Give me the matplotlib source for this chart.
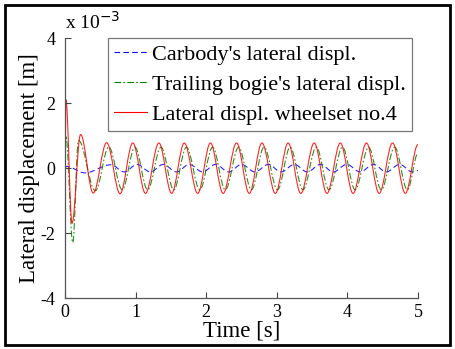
import matplotlib
matplotlib.use("Agg")
import matplotlib.pyplot as plt
from matplotlib.path import Path
from matplotlib.patches import PathPatch, Rectangle
from matplotlib.lines import Line2D

plt.rcParams["font.family"] = ["Liberation Serif", "DejaVu Serif"]
plt.rcParams["axes.unicode_minus"] = False

# extrema (time in s, displacement in 1e-3 m)
red_t = [0.0, 0.012, 0.10, 0.22, 0.40, 0.59, 0.78, 0.96, 1.14, 1.33, 1.51, 1.69, 1.88,
         2.06, 2.24, 2.43, 2.61, 2.79, 2.98, 3.16, 3.34, 3.53, 3.71, 3.90, 4.08,
         4.27, 4.45, 4.64, 4.82, 5.0]
red_v = [0.0, 2.1, -1.7, 1.03, -0.77, 0.78, -0.79, 0.77, -0.78, 0.77, -0.78, 0.77, -0.78,
         0.77, -0.78, 0.77, -0.78, 0.77, -0.78, 0.77, -0.78, 0.77, -0.78, 0.77, -0.78,
         0.77, -0.78, 0.77, -0.78, 0.72]

green_t = [0.0, 0.012, 0.11, 0.19, 0.43, 0.62, 0.81, 0.99, 1.17, 1.36, 1.54, 1.72, 1.91,
           2.09, 2.27, 2.46, 2.64, 2.82, 3.01, 3.19, 3.37, 3.56, 3.74, 3.93, 4.11,
           4.30, 4.48, 4.67, 4.85, 5.0]
green_v = [0.0, 1.0, -2.3, 0.85, -0.7, 0.65, -0.67, 0.64, -0.67, 0.64, -0.67, 0.64, -0.67,
           0.64, -0.67, 0.64, -0.67, 0.64, -0.67, 0.64, -0.67, 0.64, -0.67, 0.64, -0.67,
           0.64, -0.67, 0.64, -0.67, 0.45]

blue_t = [0.0, 0.02, 0.28, 0.65, 0.84, 1.02, 1.21, 1.39, 1.58, 1.76, 1.95, 2.13, 2.32,
          2.50, 2.69, 2.88, 3.06, 3.25, 3.43, 3.62, 3.80, 3.99, 4.18, 4.37, 4.55,
          4.74, 4.92, 5.0]
blue_v = [0.0, 0.05, -0.15, 0.1, -0.12, 0.11, -0.12, 0.11, -0.12, 0.11, -0.12, 0.11, -0.12,
          0.11, -0.12, 0.11, -0.12, 0.11, -0.12, 0.11, -0.12, 0.11, -0.12, 0.11, -0.12,
          0.11, -0.12, -0.08]

labels = ["Carbody's lateral displ.", "Trailing bogie's lateral displ.",
          "Lateral displ. wheelset no.4"]
colors = ["#0000ff", "#008000", "#ff0000"]
styles = [(0, (5, 3)), (0, (6, 2, 1.5, 2)), "-"]


def smooth_path(ts, vs):
    # cubic bezier segments between the extrema, flat at each extremum
    verts = [(ts[0], vs[0])]
    codes = [Path.MOVETO]
    for i in range(1, len(ts)):
        d = (ts[i] - ts[i - 1]) * 0.36
        verts += [(ts[i - 1] + d, vs[i - 1]), (ts[i] - d, vs[i]), (ts[i], vs[i])]
        codes += [Path.CURVE4] * 3
    return Path(verts, codes)


fig = plt.figure(figsize=(4.55, 3.49), dpi=100)
ax = fig.add_axes([0.1429, 0.1461, 0.7758, 0.745])

series = [(blue_t, blue_v), (green_t, green_v), (red_t, red_v)]
for (ts, vs), c, ls in zip(series, colors, styles):
    ax.add_patch(PathPatch(smooth_path(ts, vs), fill=False, edgecolor=c,
                           linestyle=ls, lw=0.8, alpha=0.85))

ax.set_xlim(0, 5)
ax.set_ylim(-4, 4)
ax.set_xticks(range(0, 6))
ax.set_yticks([-4, -2, 0, 2, 4])
ax.tick_params(direction="in", length=4, labelsize=13, color="#444444")
ax.tick_params(axis="y", pad=7)
ax.tick_params(axis="x", pad=4)
for s in ["top", "right"]:
    ax.spines[s].set_visible(False)
for s in ["left", "bottom"]:
    ax.spines[s].set_color("#555555")
    ax.spines[s].set_linewidth(0.9)

ax.set_xlabel("Time [s]", fontsize=16.5, labelpad=0)
ax.set_ylabel("Lateral displacement [m]", fontsize=16.5, labelpad=0)
ax.text(0.0, 1.02, "x 10$^{-3}$", transform=ax.transAxes, fontsize=14,
        ha="left", va="bottom")

handles = [Line2D([], [], color=c, linestyle=ls, lw=0.8) for c, ls in zip(colors, styles)]
leg = ax.legend(handles, labels, loc="upper left", bbox_to_anchor=(0.122, 1.0),
                borderaxespad=0, fontsize=16, handlelength=1.45, handletextpad=0.25,
                labelspacing=0.42, borderpad=0.28, fancybox=False, framealpha=1)
leg.get_frame().set_edgecolor("#777777")
leg.get_frame().set_linewidth(0.9)

fig.add_artist(Rectangle((0.011, 0.012), 0.978, 0.974, transform=fig.transFigure,
                         fill=False, edgecolor="black", lw=2))

fig.savefig("out.png", dpi=100)
